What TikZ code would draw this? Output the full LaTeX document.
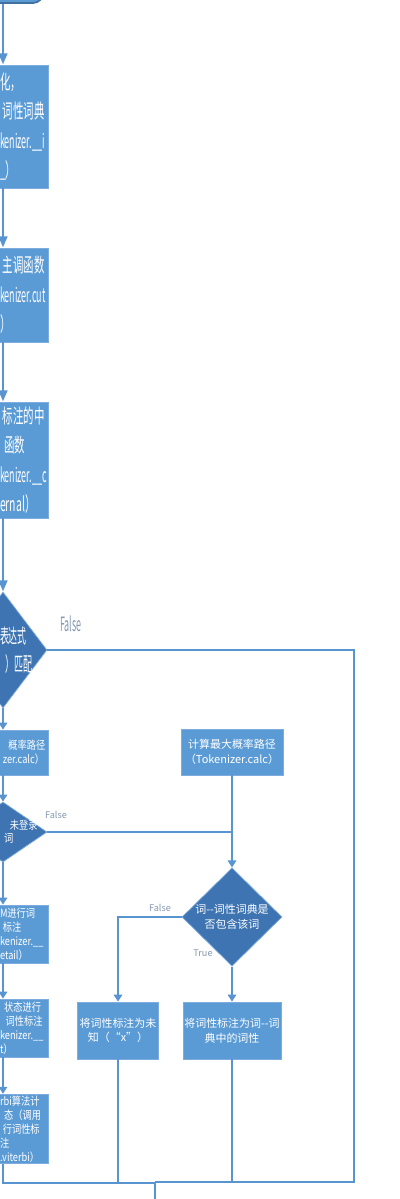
\documentclass[tikz,border=0pt]{standalone}
\usepackage{fontspec}
\usepackage{tikz}
\usetikzlibrary{shapes.geometric, arrows.meta, positioning, calc}
\newfontfamily\cjk{Noto Sans CJK SC}
\newfontfamily\cjkmid[FakeStretch=0.82]{Noto Sans CJK SC}
\newfontfamily\cjknarrow[FakeStretch=0.53]{Noto Sans CJK SC}
\newfontfamily\cjkthin[FakeStretch=0.455]{Noto Sans CJK SC}
\hyphenpenalty=10000
\exhyphenpenalty=10000
\definecolor{myblue}{RGB}{91,155,213}
\definecolor{myedge}{RGB}{126,172,222}
\definecolor{mydeep}{RGB}{62,116,178}
\definecolor{mydark}{RGB}{65,113,156}
\definecolor{myline}{RGB}{88,148,208}
\definecolor{mylabel}{RGB}{132,151,176}
\tikzset{
  startbox/.style={rectangle, draw=mydark, fill=myblue, rounded corners=0.25cm,
    minimum width=2cm, minimum height=1.15cm, line width=1.2pt},
  block/.style={rectangle, draw=myedge, fill=myblue, text=white,
    align=center, inner sep=1pt, line width=0.5pt,
    font=\cjk\fontsize{7.8}{10.5}\selectfont},
  tallblock/.style={block, minimum width=2.25cm, text width=0.15cm, align=left,
    font=\cjknarrow\fontsize{14}{21}\selectfont},
  leftblock/.style={block, minimum width=2.25cm, text width=0.15cm, align=left,
    font=\cjkmid\fontsize{8}{10}\selectfont},
  decision/.style={diamond, draw=myedge, fill=mydeep, text=white, align=center,
    inner sep=0pt, line width=0.5pt, font=\cjk\fontsize{7.8}{10.5}\selectfont},
  talldecision/.style={decision, text width=0.15cm, align=left,
    font=\cjkthin\fontsize{14}{20}\selectfont},
  leftdecision/.style={decision, text width=0.15cm, align=left,
    font=\cjkmid\fontsize{8}{9.5}\selectfont},
  lbl/.style={text=mylabel, font=\cjk\fontsize{6.5}{8}\selectfont, inner sep=0pt},
  biglbl/.style={lbl, font=\cjkthin\fontsize{14}{16}\selectfont},
  arrow/.style={-{Triangle[width=6pt,length=5pt]}, line width=1.3pt, color=myline},
  bigarrow/.style={-{Triangle[width=6pt,length=8pt]}, line width=2pt, color=myline},
  line/.style={line width=1.3pt, color=myline},
  thickline/.style={line width=1.8pt, color=myline}
}

\begin{document}
\begin{tikzpicture}[x=0.025cm, y=-0.025cm]
  \clip (0,0) rectangle (400,1199);
  % left column
  \node[startbox] (start) at (3,-20) {};
  \node[tallblock, minimum height=3.075cm] (init) at (3,126.5)
    {化，\\\hspace*{2pt}词性词典\\{\cjkthin kenizer.\_\_i}\\\_）};
  \node[tallblock, minimum height=2.35cm] (cut) at (3,295)
    {\hspace*{2pt}主调函数\\{\cjkthin kenizer.cut}\\）};
  \node[tallblock, minimum height=2.9cm] (cutint) at (3,460)
    {\hspace*{2pt}标注的中\\\hspace*{3pt}函数\\{\cjkthin kenizer.\_\_c}\\ernal）};
  \node[talldecision, minimum width=2.2cm, minimum height=2.9cm] (rehan) at (3,650)
    {表达式\\\hspace*{4pt}）匹配};
  \node[leftblock, minimum height=1.125cm] (calcL) at (3,752.5)
    {\hspace*{6pt}概率路径\\\hspace*{2pt}zer.calc）};
  \node[leftdecision, minimum width=2.2cm, minimum height=1.5cm] (oov) at (3,832)
    {\hspace*{7pt}未登录\\\hspace*{3pt}词};
  \node[leftblock, minimum height=1.45cm] (hmm) at (3,934)
    {M进行词\\\hspace*{2pt}标注\\kenizer.\_\_\\etail）};
  \node[leftblock, minimum height=1.45cm] (state) at (3,1028)
    {\hspace*{3pt}状态进行\\\hspace*{4pt}词性标注\\kenizer.\_\_\\t）};
  \node[leftblock, minimum height=1.7cm] (vit) at (3,1129)
    {rbi算法计\\\hspace*{3pt}态（调用\\\hspace*{2pt}行词性标\\注\\.viterbi）};
  % right column
  \node[block, minimum width=2.55cm, minimum height=1.15cm] (calcR) at (232,752)
    {计算最大概率路径\\（Tokenizer.calc）};
  \node[decision, minimum width=2.5cm, minimum height=1.85cm] (dict) at (232,917)
    {词-{}-词性词典是\\否包含该词};
  \node[block, minimum width=2.025cm, minimum height=1.425cm] (unk) at (118,1030.5)
    {将词性标注为未\\知（“x”）};
  \node[block, minimum width=2.4cm, minimum height=1.425cm] (tag) at (232,1030.5)
    {将词性标注为词-{}-词\\典中的词性};
  \coordinate (rcorner) at (354,1182);
  \coordinate (join) at (155,1183);
  \coordinate (next) at (155,1215);
  % branch labels
  \node[biglbl] (f1) at (71,624) {False};
  \node[lbl] (f2) at (56,815) {False};
  \node[lbl] (f3) at (160,908) {False};
  \node[lbl] (t3) at (203,953) {True};
  % connectors
  \draw[bigarrow] (start) -- (init);
  \draw[bigarrow] (init) -- (cut);
  \draw[bigarrow] (cut) -- (cutint);
  \draw[bigarrow] (cutint) -- (rehan);
  \draw[arrow] (rehan) -- (calcL);
  \draw[arrow] (calcL) -- (oov);
  \draw[arrow] (oov) -- (hmm);
  \draw[arrow] (hmm) -- (state);
  \draw[arrow] (state) -- (vit);
  \draw[thickline] (rehan.east) -| (rcorner) -- (join |- rcorner);
  \draw[line] (oov.east) -- (oov.east -| calcR.south);
  \draw[arrow] (calcR) -- (dict);
  \draw[arrow] (dict.west) -| (unk.north);
  \draw[arrow] (dict) -- (tag);
  \draw[line] (unk.south) -- (unk.south |- join);
  \draw[line] (tag.south) -- (tag.south |- rcorner);
  \draw[line] (vit.south) |- (join);
  \draw[line] (join) -- (next);
\end{tikzpicture}
\end{document}
